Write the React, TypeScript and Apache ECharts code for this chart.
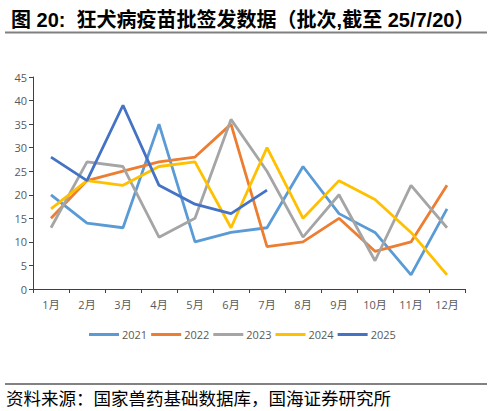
import React, { useEffect, useRef } from "react";
import * as echarts from "echarts";

const months = ["1月", "2月", "3月", "4月", "5月", "6月", "7月", "8月", "9月", "10月", "11月", "12月"];

const y2021 = [20, 14, 13, 35, 10, 12, 13, 26, 16, 12, 3, 17];
const y2022 = [15, 23, 25, 27, 28, 35, 9, 10, 15, 8, 10, 22];
const y2023 = [13, 27, 26, 11, 15, 36, 25, 11, 20, 6, 22, 13];
const y2024 = [17, 23, 22, 26, 27, 13, 30, 15, 23, 19, 12, 3];
const y2025 = [28, 23, 39, 22, 18, 16, 21];

const seriesNames = ["2021", "2022", "2023", "2024", "2025"];
const seriesColors = ["#5B9BD5", "#ED7D31", "#A5A5A5", "#FFC000", "#4472C4"];

const App = () => {
  const chartRef = useRef<HTMLDivElement>(null);

  useEffect(() => {
    if (!chartRef.current) return;
    const chart = echarts.init(chartRef.current, undefined, { renderer: "svg" });

    const data = [y2021, y2022, y2023, y2024, y2025];

    const option: echarts.EChartsOption = {
      animation: false,
      backgroundColor: "#ffffff",
      title: [
        {
          text: "图 20:  狂犬病疫苗批签发数据（批次,截至 25/7/20）",
          left: 6,
          top: 5,
          textStyle: {
            fontFamily: "'Liberation Sans', 'Noto Sans CJK SC'",
            fontSize: 20,
            fontWeight: "bold",
            color: "#000000",
          },
        },
      ],
      graphic: [
        {
          type: "line",
          shape: { x1: 5, y1: 32.5, x2: 487, y2: 32.5 },
          style: { stroke: "#808080", lineWidth: 2 },
        },
        {
          type: "line",
          shape: { x1: 5, y1: 384, x2: 487, y2: 384 },
          style: { stroke: "#595959", lineWidth: 1.5 },
        },
        {
          type: "text",
          left: 6,
          top: 388,
          style: {
            text: "资料来源：国家兽药基础数据库，国海证券研究所",
            fontFamily: "'Noto Sans CJK SC'",
            fontSize: 17.5,
            lineHeight: 18,
            fill: "#000000",
          },
        },
      ],
      legend: {
        left: 84,
        top: 324,
        icon: "rect",
        itemWidth: 30,
        itemHeight: 3,
        itemGap: 4,
        data: seriesNames,
        textStyle: { color: "#595959", fontSize: 11, fontFamily: "'Open Sans'", padding: [0, 0, 0, -2] },
      },
      grid: {
        left: 33,
        right: 27,
        top: 77,
        bottom: 122,
      },
      xAxis: {
        type: "category",
        data: months,
        boundaryGap: true,
        axisLine: { lineStyle: { color: "#404040", width: 1 } },
        axisTick: { show: true, length: 4, inside: false, alignWithLabel: false, lineStyle: { color: "#404040" } },
        axisLabel: { color: "#595959", fontSize: 11, fontFamily: "'Open Sans', 'Noto Sans CJK SC'", margin: 10 },
      },
      yAxis: {
        type: "value",
        min: 0,
        max: 45,
        interval: 5,
        axisLine: { show: true, lineStyle: { color: "#404040", width: 1 } },
        axisTick: { show: true, length: 4, lineStyle: { color: "#404040" } },
        axisLabel: { color: "#595959", fontSize: 11, fontFamily: "'Open Sans'", margin: 6 },
        splitLine: { show: false },
      },
      series: seriesNames.map((name, i) => ({
        name,
        type: "line",
        data: data[i],
        symbol: "none",
        lineStyle: { color: seriesColors[i], width: 2.8 },
        itemStyle: { color: seriesColors[i] },
      })),
    };

    chart.setOption(option);
    return () => chart.dispose();
  }, []);

  return (
    <div
      ref={chartRef}
      style={{ position: "absolute", left: 0, top: 0, width: 492, height: 411 }}
    />
  );
};

export default App;
